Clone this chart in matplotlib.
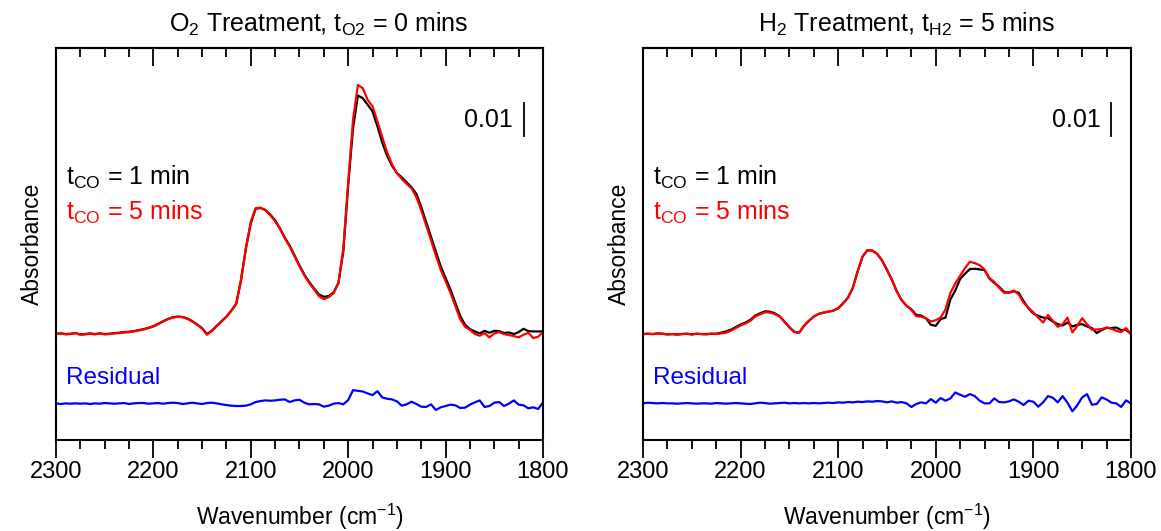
import numpy as np
import matplotlib
matplotlib.use("Agg")
import matplotlib.pyplot as plt
from matplotlib.ticker import MultipleLocator

plt.rcParams["font.family"] = ["Liberation Sans", "DejaVu Sans"]
plt.rcParams["mathtext.default"] = "regular"

wavenumber = np.arange(2300, 1795, -5)

# absorbance values in mAbs
o2_co_1min = [
    0.1, 0.2, 0.0, 0.1, 0.3, -0.1, 0.0, 0.2, 0.0, 0.2,
    0.0, 0.1, 0.3, 0.4, 0.6, 0.7, 0.9, 1.2, 1.5, 1.9,
    2.4, 3.1, 3.9, 4.6, 5.1, 5.3, 5.2, 4.7, 3.9, 2.9,
    1.8, 0.0, 1.0, 2.5, 3.9, 5.3, 7.1, 9.2, 16.3, 26.0,
    33.5, 38.0, 38.2, 37.6, 36.2, 34.5, 32.0, 29.2, 26.8, 23.8,
    20.8, 18.0, 15.8, 13.8, 12.0, 11.3, 11.5, 12.6, 15.5, 25.0,
    45.0, 62.5, 72.3, 71.5, 69.5, 67.5, 63.0, 58.0, 54.0, 51.0,
    48.8, 47.5, 46.0, 44.5, 42.5, 38.5, 34.0, 29.5, 25.0, 20.5,
    17.0, 13.5, 9.5, 5.5, 2.8, 1.5, 0.8, 0.2, 1.0, 0.4,
    1.0, 0.9, 0.3, 0.5, 0.0, 0.6, 1.6, 0.9, 0.8, 0.8,
    0.8,
]
o2_co_5min = [
    0.0, 0.2, -0.1, 0.0, 0.3, -0.2, -0.1, 0.1, -0.1, 0.2,
    -0.1, 0.0, 0.2, 0.3, 0.5, 0.6, 0.8, 1.1, 1.4, 1.8,
    2.3, 3.0, 3.8, 4.5, 5.0, 5.2, 5.1, 4.6, 3.8, 2.8,
    1.7, -0.2, 0.9, 2.4, 3.8, 5.2, 7.0, 9.0, 16.5, 26.0,
    34.0, 38.2, 38.3, 37.6, 36.0, 34.2, 31.8, 29.0, 26.5, 23.5,
    20.5, 17.8, 15.5, 13.5, 11.5, 10.6, 11.2, 12.4, 15.5, 26.0,
    46.0, 65.0, 75.5, 74.5, 71.0, 69.0, 64.5, 59.7, 55.0, 51.5,
    48.8, 47.0, 45.5, 44.2, 41.5, 37.5, 33.0, 28.5, 23.8, 19.5,
    16.0, 12.5, 8.5, 4.5, 2.2, 1.3, 0.0, -0.5, 0.3, -1.0,
    0.2, 0.6, 0.0, -0.3, -0.6, -1.0, -0.2, 0.4, -1.2, -0.8,
    0.6,
]
o2_residual = [
    0.0, -0.2, 0.0, -0.1, 0.0, -0.1, 0.0, -0.2, 0.0, -0.1,
    0.1, 0.0, -0.1, 0.0, 0.1, -0.2, 0.0, 0.1, 0.1, -0.1,
    0.0, 0.1, -0.1, 0.1, 0.2, 0.1, -0.2, 0.0, 0.2, 0.0,
    -0.2, 0.1, 0.2, 0.0, -0.3, -0.5, -0.7, -0.8, -0.8, -0.7,
    -0.3, 0.4, 0.7, 0.9, 0.8, 0.9, 1.1, 1.2, 0.4, 0.9,
    1.1, 0.2, -0.3, -0.2, -0.3, -1.0, -0.7, -0.1, 0.1, -0.3,
    1.0, 4.0, 3.8, 3.6, 3.0, 2.5, 3.7, 1.8, 1.4, 1.2,
    0.6, -0.7, -0.3, 0.5, -0.2, -1.0, -1.1, -0.3, -2.0, -1.2,
    -0.8, -0.4, -0.6, -1.4, -1.3, -0.4, 0.3, 0.9, -1.1, -0.8,
    0.2, 0.4, -0.8, -0.1, 0.9, -0.4, -0.6, -1.5, -1.2, -1.7,
    0.3,
]

h2_co_1min = [
    0.0, 0.1, 0.0, 0.2, 0.1, -0.1, 0.0, -0.1, 0.0, 0.1,
    -0.1, 0.1, 0.0, 0.0, 0.1, 0.1, 0.4, 0.8, 1.3, 2.1,
    2.9, 3.5, 4.3, 5.6, 6.3, 6.9, 6.8, 6.3, 5.4, 3.8,
    2.1, 0.7, 0.4, 2.5, 4.0, 5.3, 6.1, 6.5, 6.8, 7.1,
    7.8, 9.3, 11.0, 14.0, 19.0, 23.5, 25.4, 25.3, 24.3, 22.3,
    19.5, 16.5, 13.0, 10.3, 8.6, 7.5, 5.8, 5.6, 4.8, 2.8,
    2.5, 4.5, 5.0, 10.5, 13.2, 16.7, 18.3, 19.7, 19.8, 19.6,
    19.4, 16.8, 15.5, 14.3, 12.8, 12.5, 13.0, 12.5, 10.0, 7.8,
    6.2, 5.5, 5.0, 4.8, 3.8, 3.0, 2.6, 3.5, 2.3, 2.8,
    3.0, 2.3, 1.8, 0.3, 1.2, 1.9, 1.8, 2.0, 1.2, 1.3,
    0.0,
]
h2_co_5min = [
    0.0, 0.1, 0.0, 0.2, 0.1, -0.1, 0.0, -0.2, 0.0, 0.1,
    -0.1, 0.1, 0.0, -0.1, 0.1, 0.0, 0.2, 0.4, 1.0, 1.8,
    2.6, 3.2, 4.0, 5.3, 6.0, 6.6, 6.5, 6.1, 5.3, 3.7,
    2.0, 0.6, 0.4, 2.5, 4.0, 5.3, 6.1, 6.5, 6.8, 7.1,
    7.8, 9.3, 11.0, 14.0, 19.0, 23.5, 25.4, 25.3, 24.3, 22.3,
    19.5, 16.5, 13.0, 10.3, 8.6, 7.3, 5.4, 5.3, 4.8, 3.8,
    4.2, 5.0, 7.5, 12.5, 15.3, 17.7, 20.0, 21.9, 21.5, 20.9,
    19.5, 17.0, 15.8, 14.0, 12.5, 12.6, 13.2, 12.0, 9.5, 8.0,
    6.6, 5.0, 3.5, 5.8, 4.0, 2.2, 3.0, 5.0, 0.5, 2.5,
    4.8, 3.0, 1.3, 1.4, 1.5, 2.0, 1.6, 1.0, 0.6, 1.8,
    0.0,
]
h2_residual = [
    0.0, 0.2, 0.1, 0.0, 0.1, 0.0, 0.0, -0.1, 0.0, 0.1,
    0.0, -0.1, 0.0, 0.0, -0.1, 0.1, 0.0, -0.1, 0.0, 0.1,
    0.0, -0.1, -0.2, 0.0, 0.2, 0.1, -0.1, 0.0, 0.1, 0.2,
    0.0, 0.1, 0.0, 0.1, 0.0, 0.1, 0.0, 0.1, 0.2, 0.1,
    0.3, 0.2, 0.4, 0.3, 0.5, 0.4, 0.6, 0.5, 0.7, 0.6,
    0.3, 0.6, 0.2, 0.4, 0.0, -1.1, -0.2, 0.3, 0.0, 1.3,
    0.2, 1.6, 0.8, 1.5, 3.3, 2.6, 2.0, 2.8, 2.2, 0.8,
    0.0, 0.0, 1.5, 0.4, 0.3, 0.6, 1.2, 0.5, -0.5, 0.8,
    0.5, -1.0, 0.3, 2.2, 1.7, 0.3, 2.2, 0.2, -2.4, -0.6,
    1.8, 2.8, -0.4, -0.2, 1.8, 1.2, 0.2, 0.0, -1.1, 0.9,
    0.0,
]

panel_titles = [
    "O$_2$ Treatment, t$_{O2}$ = 0 mins",
    "H$_2$ Treatment, t$_{H2}$ = 5 mins",
]
panels = [
    (o2_co_1min, o2_co_5min, o2_residual),
    (h2_co_1min, h2_co_5min, h2_residual),
]
for series in panels:
    for s in series:
        assert len(s) == len(wavenumber)

RESIDUAL_OFFSET = -21.0   # mAbs, vertical shift of the residual trace
SCALE_BAR = 10.0          # mAbs (0.01 absorbance)

fig = plt.figure(figsize=(11.61, 5.31), dpi=100)
ax_rects = [
    [0.0482, 0.1714, 0.4195, 0.7382],
    [0.5538, 0.1714, 0.4203, 0.7382],
]

for rect, title, (black, red, resid) in zip(ax_rects, panel_titles, panels):
    ax = fig.add_axes(rect)
    ax.plot(wavenumber, black, color="black", lw=1.6)
    ax.plot(wavenumber, red, color="#ff0000", lw=1.6)
    ax.plot(wavenumber, np.asarray(resid) + RESIDUAL_OFFSET, color="#0000ff", lw=1.6)

    ax.set_xlim(2300, 1800)
    ax.set_ylim(-32.1, 86.7)

    # scale bar
    ax.plot([1820, 1820], [60, 60 + SCALE_BAR], color="black", lw=1.3)
    ax.text(1831, 65, "0.01", ha="right", va="center", fontsize=18)

    ax.text(2290, 45.2, "t$_{CO}$ = 1 min", color="black", fontsize=18, va="baseline")
    ax.text(2290, 34.5, "t$_{CO}$ = 5 mins", color="#ff0000", fontsize=18, va="baseline")
    ax.text(2290, -15.2, "Residual", color="#0000ff", fontsize=17.5, va="baseline")

    ax.set_title(title, fontsize=18, pad=12, x=0.54)
    ax.set_xlabel("Wavenumber (cm$^{-1}$)", fontsize=16.5, labelpad=14)
    ax.set_ylabel("Absorbance", fontsize=16.5, labelpad=9)

    ax.xaxis.set_major_locator(MultipleLocator(100))
    ax.xaxis.set_minor_locator(MultipleLocator(25))
    ax.tick_params(axis="x", which="major", direction="out", length=13, width=1.3,
                   labelsize=17, pad=2)
    ax.tick_params(axis="x", which="minor", direction="out", length=6.5, width=1.3)
    ax.set_yticks([])
    for sp in ax.spines.values():
        sp.set_linewidth(1.5)

    top = ax.secondary_xaxis("top")
    top.xaxis.set_major_locator(MultipleLocator(100))
    top.xaxis.set_minor_locator(MultipleLocator(25))
    top.tick_params(axis="x", which="major", direction="in", length=13, width=1.3,
                    labeltop=False)
    top.tick_params(axis="x", which="minor", direction="in", length=6.5, width=1.3)
    top.spines["top"].set_linewidth(1.5)

fig.savefig("out.png", dpi=100)
